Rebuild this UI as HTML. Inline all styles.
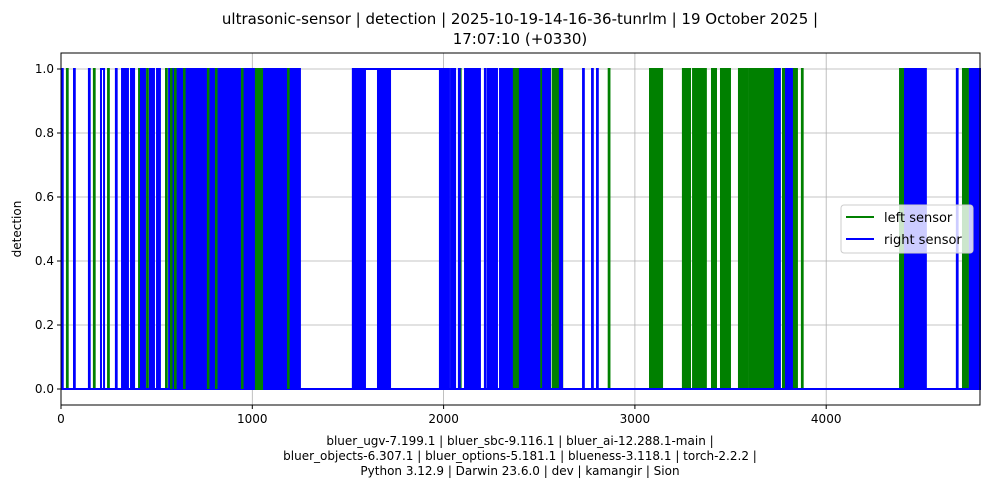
<!DOCTYPE html>
<html><head><meta charset="utf-8"><style>
body{margin:0;background:#fff;font-family:"Liberation Sans","DejaVu Sans",sans-serif;}
svg text{font-family:"DejaVu Sans","Liberation Sans",sans-serif;}
</style></head><body>
<svg id="chart" width="989" height="492" xmlns="http://www.w3.org/2000/svg">
<rect width="989" height="492" fill="#fff"/>
<text x="520" y="24" font-size="15" text-anchor="middle">ultrasonic-sensor | detection | 2025-10-19-14-16-36-tunrlm | 19 October 2025 |</text>
<text x="520" y="44" font-size="15" text-anchor="middle">17:07:10 (+0330)</text>
<g id="grid"></g>
<g id="marks"></g>
<rect x="61" y="53" width="919" height="352" fill="none" stroke="#000" stroke-width="1"/>
<g id="axes"></g>
<text transform="translate(21,229) rotate(-90)" font-size="12" text-anchor="middle">detection</text>
<text x="520" y="445" font-size="12" text-anchor="middle">bluer_ugv-7.199.1 | bluer_sbc-9.116.1 | bluer_ai-12.288.1-main |</text>
<text x="520" y="460" font-size="12" text-anchor="middle">bluer_objects-6.307.1 | bluer_options-5.181.1 | blueness-3.118.1 | torch-2.2.2 |</text>
<text x="520" y="475" font-size="12" text-anchor="middle">Python 3.12.9 | Darwin 23.6.0 | dev | kamangir | Sion</text>
<g>
<rect x="841" y="205" width="132" height="48" rx="3" fill="#fff" fill-opacity="0.8" stroke="#ccc"/>
<line x1="846" y1="217" x2="874" y2="217" stroke="green" stroke-width="2"/>
<text x="884" y="222" font-size="13">left sensor</text>
<line x1="846" y1="239" x2="874" y2="239" stroke="blue" stroke-width="2"/>
<text x="884" y="244" font-size="13">right sensor</text>
</g>
</svg>
<script>
const xTicks=[0,1000,2000,3000,4000];
const yTicks=[0.0,0.2,0.4,0.6,0.8,1.0];
const xMax=4804;
const leftPulses=[31,172,246,408,450,549,1580,2085,2140,2300,2863,3873];
const leftBlocks=[[1990,2010],[2045,2058],[2363,2399],[2500,2556],[2570,2620],[3079,3142],[3251,3288],[3304,3371],[3403,3424],[3450,3497],[3544,3591],[3601,3628],[3638,3732],[3774,3795],[3826,3847],[4386,4412],[4715,4741]];
const leftVisible=[575,596,643,768,810,946,1187];
const leftVisibleBlocks=[[1019,1051]];
const rightPulses=[[5,9],[68,72],[146,150],[209,225],[287,291],[1526,1981],[2080,2084],[2216,2220],[2729,2733],[2776,2780],[2802,2806],[4683,4687]];
const rightBlocks=[[319,350],[366,382],[418,439],[465,486],[502,517],[565,665],[673,1249],[1526,1589],[1657,1720],[1981,2028],[2039,2060],[2112,2190],[2232,2279],[2295,2357],[2399,2478],[2488,2500],[2520,2556],[2608,2619],[3732,3758],[3790,3821],[4412,4521],[4751,4804]];
const X0=61,X1=980,Y0=389,Y1=69;
const sx=v=>X0+v*(X1-X0)/xMax;
const sy=v=>Y0-v*(Y0-Y1);
const NS="http://www.w3.org/2000/svg";
function mk(tag,attrs,parent){const e=document.createElementNS(NS,tag);for(const k in attrs)e.setAttribute(k,attrs[k]);parent.appendChild(e);return e;}
const grid=document.getElementById('grid'),marks=document.getElementById('marks'),axes=document.getElementById('axes');
xTicks.forEach(t=>{const x=sx(t);
 const g=mk('line',{x1:x,x2:x,y1:53,y2:405,stroke:'#b0b0b0','stroke-width':0.8},grid);
 
 
 mk('line',{x1:x,x2:x,y1:405,y2:409,stroke:'#000'},axes);
 const tx=mk('text',{x:x,y:423,'font-size':12,'text-anchor':'middle'},axes);tx.textContent=t;
 
 
});
yTicks.forEach(t=>{const y=sy(t);
 const g=mk('line',{x1:61,x2:980,y1:y,y2:y,stroke:'#b0b0b0','stroke-width':0.8},grid);
 
 
 mk('line',{x1:57,x2:61,y1:y,y2:y,stroke:'#000'},axes);
 const tx=mk('text',{x:54,y:y+4,'font-size':12,'text-anchor':'end'},axes);tx.textContent=t.toFixed(1);
 
 
});
function pulse(a,b,c,name){const p=mk('polyline',{points:`${sx(a)},${sy(0)} ${sx(a)},${sy(1)} ${sx(b)},${sy(1)} ${sx(b)},${sy(0)}`,fill:'none',stroke:c,'stroke-width':2},marks);
 
 }
function block(a,b,c,name){const r=mk('rect',{x:sx(a)-1,y:sy(1)-1,width:Math.max(2,sx(b)-sx(a)+2),height:sy(0)-sy(1)+2,fill:c},marks);
 
 }
const gb=mk('line',{x1:X0,x2:X1,y1:sy(0),y2:sy(0),stroke:'green','stroke-width':2},marks);


leftPulses.forEach(v=>pulse(v,v+4,'green','left-pulse'));
leftBlocks.forEach(([a,b])=>block(a,b,'green','left-dense-block'));
const bb=mk('line',{x1:X0,x2:X1,y1:sy(0),y2:sy(0),stroke:'blue','stroke-width':2},marks);


rightPulses.forEach(([a,b])=>pulse(a,b,'blue','right-pulse'));
rightBlocks.forEach(([a,b])=>block(a,b,'blue','right-dense-block'));
leftVisible.forEach(v=>pulse(v,v+3,'green','left-pulse-visible'));
leftVisibleBlocks.forEach(([a,b])=>block(a,b,'green','left-visible-block'));
</script>
</body></html>
